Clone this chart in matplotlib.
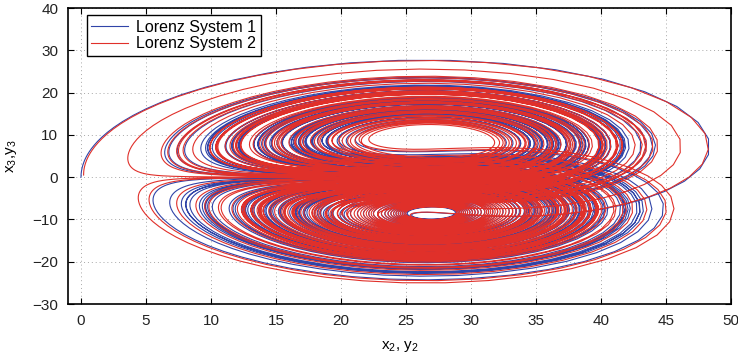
import numpy as np
import matplotlib.pyplot as plt

plt.rcParams['font.family'] = ['Liberation Sans', 'DejaVu Sans']
plt.rcParams['mathtext.default'] = 'regular'

# Lorenz parameters and starting states of the two systems
sigma = 10.0
rho = 28.0
beta = 8.0 / 3.0
x0_sys1 = [1.0, 0.0, 0.0]
x0_sys2 = [1.0, 0.5, 0.2]
dt = 0.01
t_end = 100.0

series_labels = ['Lorenz System 1', 'Lorenz System 2']
series_colors = ['#3044a8', '#e0302a']
x_ticks = [0, 5, 10, 15, 20, 25, 30, 35, 40, 45, 50]
y_ticks = [-30, -20, -10, 0, 10, 20, 30, 40]


def lorenz(s):
    x, y, z = s
    return np.array([sigma * (y - x), x * (rho - z) - y, x * y - beta * z])


def integrate(s0):
    n = int(round(t_end / dt))
    out = np.zeros((n + 1, 3))
    s = np.array(s0, dtype=float)
    out[0] = s
    for i in range(n):
        k1 = lorenz(s)
        k2 = lorenz(s + 0.5 * dt * k1)
        k3 = lorenz(s + 0.5 * dt * k2)
        k4 = lorenz(s + dt * k3)
        s = s + dt / 6.0 * (k1 + 2 * k2 + 2 * k3 + k4)
        out[i + 1] = s
    return out


traj1 = integrate(x0_sys1)
traj2 = integrate(x0_sys2)

fig = plt.figure(figsize=(7.38, 3.62), dpi=100)
ax = fig.add_axes([68 / 738, 1 - 304 / 362, (731 - 68) / 738, (304 - 8) / 362])

ax.plot(traj1[:, 2], traj1[:, 1], color=series_colors[0], lw=0.8, label=series_labels[0])
ax.plot(traj2[:, 2], traj2[:, 1], color=series_colors[1], lw=0.8, label=series_labels[1])

ax.set_xlim(-1, 50)
ax.set_ylim(-30, 40)
ax.set_xticks(x_ticks)
ax.set_yticks(y_ticks)
ax.grid(True, linestyle=(0, (1, 3)), color='#a8a8a8', lw=0.7)
ax.tick_params(direction='in', top=True, right=True, labelsize=11, length=4,
               pad=7, labelcolor='#222222')
for sp in ax.spines.values():
    sp.set_linewidth(1.2)

ax.set_xlabel('x$_2$, y$_2$', fontsize=11, labelpad=8)
ax.set_ylabel('x$_3$,y$_3$', fontsize=11, labelpad=10)

leg = ax.legend(loc='upper left', bbox_to_anchor=(0.028, 0.977), borderaxespad=0,
                fontsize=11.5, fancybox=False, framealpha=1, edgecolor='black',
                handlelength=2.3, handletextpad=0.5, borderpad=0.3,
                labelspacing=0.1)
leg.get_frame().set_linewidth(1.0)

fig.savefig('out.png', dpi=100)
